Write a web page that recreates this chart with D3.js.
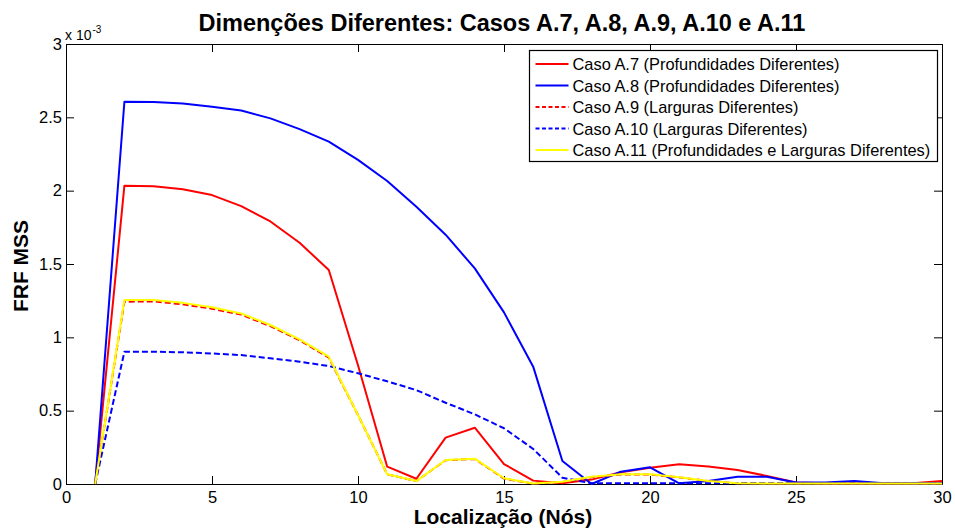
<!DOCTYPE html>
<html>
<head>
<meta charset="utf-8">
<script src="https://cdn.jsdelivr.net/npm/d3@7/dist/d3.min.js"></script>
<style>
  body { margin: 0; background: #fff; }
  svg { display: block; font-family: Arial, "Liberation Sans", sans-serif; }
</style>
</head>
<body>
<svg id="chart" width="955" height="529"></svg>
<script>
// Node positions along the element
const nodes = d3.range(1, 31);

// FRF MSS per node (x 10^-3)
const casoA7  = [0, 2.034, 2.03, 2.01, 1.97, 1.895, 1.79, 1.645, 1.459, 0.81, 0.118, 0.036, 0.316, 0.384, 0.136,
                 0.023, 0.005, 0.03, 0.08, 0.11, 0.134, 0.12, 0.095, 0.055, 0.01, 0.005, 0.005, 0.005, 0.005, 0.02];
const casoA8  = [0, 2.606, 2.605, 2.595, 2.572, 2.547, 2.493, 2.42, 2.334, 2.21, 2.066, 1.89, 1.70, 1.47, 1.17,
                 0.80, 0.157, 0.0, 0.084, 0.114, 0.005, 0.02, 0.05, 0.05, 0.01, 0.01, 0.02, 0.005, 0.005, 0.005];
const casoA9  = [0, 1.243, 1.245, 1.225, 1.195, 1.155, 1.076, 0.98, 0.862, 0.47, 0.066, 0.02, 0.162, 0.171, 0.037,
                 0.003, 0.014, 0.048, 0.064, 0.064, 0.045, 0.02, 0.005, 0.004, 0.003, 0.003, 0.003, 0.003, 0.003, 0.003];
const casoA10 = [0, 0.902, 0.902, 0.898, 0.89, 0.879, 0.857, 0.834, 0.804, 0.755, 0.70, 0.64, 0.554, 0.475, 0.38,
                 0.239, 0.043, 0.005, 0.005, 0.005, 0.005, 0.005, 0.005, 0.005, 0.005, 0.005, 0.005, 0.005, 0.005, 0.005];
const casoA11 = [0, 1.254, 1.255, 1.235, 1.205, 1.163, 1.084, 0.986, 0.868, 0.47, 0.066, 0.02, 0.164, 0.173, 0.039,
                 0.003, 0.015, 0.05, 0.066, 0.066, 0.046, 0.02, 0.005, 0.004, 0.003, 0.003, 0.003, 0.003, 0.003, 0.003];

const seriesNames = [
  "Caso A.7 (Profundidades Diferentes)",
  "Caso A.8 (Profundidades Diferentes)",
  "Caso A.9 (Larguras Diferentes)",
  "Caso A.10 (Larguras Diferentes)",
  "Caso A.11 (Profundidades e Larguras Diferentes)"
];
const seriesValues = [casoA7, casoA8, casoA9, casoA10, casoA11];
const seriesColors = ["#ff0000", "#0000ff", "#ff0000", "#0000ff", "#ffff00"];
const seriesDashed = [false, false, true, true, false];

const xTicks = [0, 5, 10, 15, 20, 25, 30];
const yTicks = [0, 0.5, 1, 1.5, 2, 2.5, 3];

const titleText = "Dimenções Diferentes: Casos A.7, A.8, A.9, A.10 e A.11";
const xLabel = "Localização (Nós)";
const yLabel = "FRF MSS";

const svg = d3.select("#chart");
const margin = { left: 66, right: 13, top: 44, bottom: 45 };
const W = 955, H = 529;

const x = d3.scaleLinear().domain([0, 30]).range([margin.left, W - margin.right]);
const y = d3.scaleLinear().domain([0, 3]).range([H - margin.bottom, margin.top]);

// Plot frame
svg.append("rect")
  .attr("x", x(0)).attr("y", y(3))
  .attr("width", x(30) - x(0)).attr("height", y(0) - y(3))
  .attr("fill", "#fff");

const tickLen = 8;
function styleAxis(g) {
  g.select(".domain").attr("stroke", "#000").attr("stroke-width", 1);
  g.selectAll(".tick line").attr("stroke", "#000");
  g.selectAll(".tick text").attr("fill", "#000").style("font-size", "16.5px")
    .style("font-family", "Arial, 'Liberation Sans', sans-serif");
}

// Bottom axis with inward ticks
svg.append("g").attr("transform", `translate(0,${y(0)})`)
  .call(d3.axisBottom(x).tickValues(xTicks).tickSize(-tickLen).tickPadding(7).tickSizeOuter(0))
  .call(styleAxis);
// Top axis (ticks only)
svg.append("g").attr("transform", `translate(0,${y(3)})`)
  .call(d3.axisTop(x).tickValues(xTicks).tickSize(-tickLen).tickFormat("").tickSizeOuter(0))
  .call(styleAxis);
// Left axis
svg.append("g").attr("transform", `translate(${x(0)},0)`)
  .call(d3.axisLeft(y).tickValues(yTicks).tickSize(-tickLen).tickPadding(4).tickSizeOuter(0)
    .tickFormat(d => d3.format("~g")(d)))
  .call(styleAxis);
// Right axis (ticks only)
svg.append("g").attr("transform", `translate(${x(30)},0)`)
  .call(d3.axisRight(y).tickValues(yTicks).tickSize(-tickLen).tickFormat("").tickSizeOuter(0))
  .call(styleAxis);

// Exponent label
const expo = svg.append("text")
  .attr("x", x(0) - 1).attr("y", 40)
  .style("font-size", "14px").attr("fill", "#000");
expo.append("tspan").text("x 10");
expo.append("tspan").attr("dx", 1).attr("dy", -7).style("font-size", "10px").text("-3");

// Series lines
const line = d3.line().x((d, i) => x(nodes[i])).y(d => y(d));
seriesValues.forEach((vals, k) => {
  svg.append("path")
    .datum(vals)
    .attr("d", line)
    .attr("fill", "none")
    .attr("stroke", seriesColors[k])
    .attr("stroke-width", 2)
    .attr("stroke-linejoin", "round")
    .attr("stroke-dasharray", seriesDashed[k] ? "6,3" : null);
});

// Legend
const lg = svg.append("g").attr("transform", "translate(529.5,50.5)");
lg.append("rect").attr("x", 0).attr("y", 0).attr("width", 408).attr("height", 111)
  .attr("fill", "#fff").attr("stroke", "#000").attr("stroke-width", 1.2);
seriesNames.forEach((name, k) => {
  const yy = 13.5 + k * 21.5;
  lg.append("line").attr("x1", 6).attr("x2", 39).attr("y1", yy).attr("y2", yy)
    .attr("stroke", seriesColors[k]).attr("stroke-width", 2)
    .attr("stroke-dasharray", seriesDashed[k] ? "4,2.5" : null);
  lg.append("text").attr("x", 43).attr("y", yy + 6)
    .style("font-size", "16.4px").attr("fill", "#000").text(name);
});

// Title and axis labels
svg.append("text").attr("x", 502).attr("y", 31)
  .attr("text-anchor", "middle").style("font-size", "23.5px").style("font-weight", "bold")
  .text(titleText);
svg.append("text").attr("x", 503).attr("y", 524)
  .attr("text-anchor", "middle").style("font-size", "21px").style("font-weight", "bold")
  .text(xLabel);
svg.append("text").attr("transform", `translate(28,266) rotate(-90)`)
  .attr("text-anchor", "middle").style("font-size", "21px").style("font-weight", "bold")
  .text(yLabel);
</script>
</body>
</html>
